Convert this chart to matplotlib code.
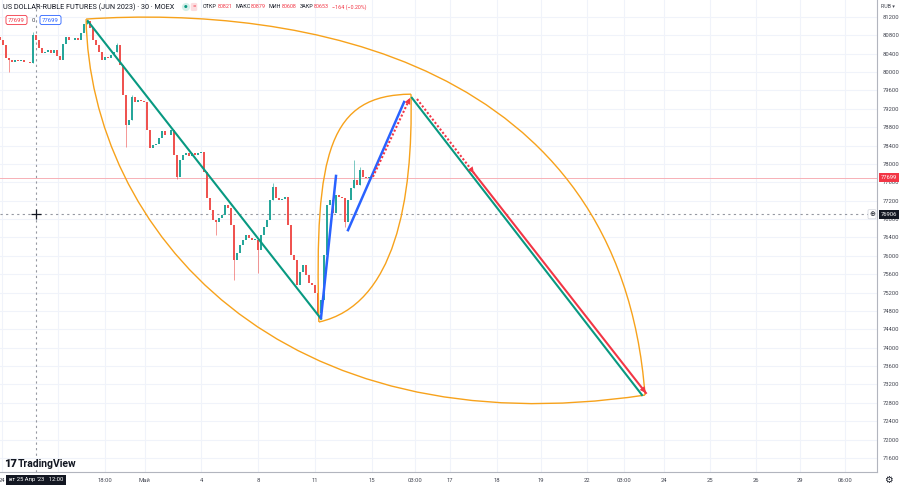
import matplotlib.pyplot as plt
from matplotlib.path import Path
import matplotlib.patches as patches
import matplotlib.transforms as mtransforms

plt.rcParams['font.family'] = ['Roboto', 'DejaVu Sans']

# 30 min candles, one close per bar (bar 0 = left edge of the chart)
first_open = 80760
closes = [80700, 80590, 80310, 80260, 80220, 80260, 80240, 80260, 80220, 80220,
          80200, 80810, 80700, 80530, 80420, 80440, 80480, 80420, 80480, 80350,
          80260, 80610, 80760, 80700, 80700, 80740, 80700, 80850, 81050, 81110,
          80960, 80700, 80590, 80440, 80260, 80330, 80310, 80370, 80440, 80590,
          80150, 79500, 78850, 78960, 79460, 79350, 79390, 79370, 79350, 78740,
          78350, 78410, 78430, 78570, 78720, 78630, 78630, 78740, 78200, 77720,
          78090, 78200, 78240, 78170, 78240, 78200, 78240, 78260, 77830, 77260,
          77000, 76780, 76740, 76820, 76890, 77110, 77040, 76670, 75910, 76060,
          76240, 76350, 76450, 76390, 76350, 76350, 76130, 76450, 76630, 76780,
          77220, 77500, 77260, 77220, 77240, 77280, 76670, 76020, 75910, 75370,
          75650, 75800, 75580, 75410, 75370, 75190, 74760, 75040, 76020, 77110,
          77220, 76930, 77330, 77280, 77260, 76740, 77220, 77480, 77650, 77540,
          77870, 77720, 77699, 77699]

# visible long wicks (bar, extreme price)
wick_bars = [3, 11, 29, 39, 42, 44, 59, 72, 78, 86, 91, 106, 115, 118, 120]
wick_ends = [80000, 80880, 81155, 80630, 78380, 79500, 77670, 76455, 75475,
             75630, 77590, 74600, 76630, 78090, 77935]

last_price = 77699
cross_bar = 12
cross_price = 76906

price_ticks = [81200, 80800, 80400, 80000, 79600, 79200, 78800, 78400, 78000,
               77600, 77200, 76800, 76400, 76000, 75600, 75200, 74800, 74400,
               74000, 73600, 73200, 72800, 72400, 72000, 71600]
time_ticks = [0.7, 19.3, 35.0, 48.3, 67.0, 86.0, 105.0, 124.0, 138.3, 150.0,
              165.7, 180.3, 195.7, 208.0, 221.3, 236.7, 252.0, 266.7, 281.7]
# the "25" tick sits under the crosshair time label
time_labels = ['24', '', '18:00', 'Май', '4', '8', '11', '15', '03:00', '17',
               '18', '19', '22', '03:00', '24', '25', '26', '29', '06:00']

# header values
ohlc_names = ['ОТКР', 'МАКС', 'МИН', 'ЗАКР']
ohlc_values = ['80821', '80879', '80608', '80653']
change_text = '−164 (−0.20%)'

# drawings: (bar, price)
green_1 = [(29.3, 81110), (107.0, 74630)]
green_2 = [(137.3, 79440), (214.0, 72970)]
blue_1 = [(107.0, 74650), (112.0, 77740)]
blue_2 = [(116.0, 76560), (134.7, 79350)]
red_dot_1 = [(124.3, 77720), (136.7, 79440)]
red_dot_2 = [(139.0, 79415), (158.0, 77800)]
red_solid = [(158.0, 77800), (215.3, 73015)]
arc_big_lower = [(28.7, 81155), (30.0, 76560), (93.3, 71775), (215.0, 72970)]
arc_big_upper = [(28.7, 81155), (100.0, 81460), (206.7, 80265), (215.0, 72970)]
arc_small_left = [(106.3, 74560), (104.7, 78305), (110.0, 79500), (137.0, 79520)]
arc_small_right = [(106.3, 74560), (131.7, 74930), (137.7, 77215), (137.0, 79520)]

UP = '#26a69a'
DOWN = '#ef5350'
TEXT = '#131722'
LABEL = '#434651'
RED = '#f23645'
ORANGE = '#f7a21b'

W, H = 900, 488


def fpos(x, y):
    return x / W, 1 - y / H


fig = plt.figure(figsize=(9, 4.88), dpi=100)
ax = fig.add_axes([0, 16 / H, 877 / W, 472 / H])
ax.set_xlim(0, 292.33)
ax.set_ylim(71295, 81570)

for s in ['left', 'top']:
    ax.spines[s].set_visible(False)
for s in ['right', 'bottom']:
    ax.spines[s].set_color('#b2b5be')
    ax.spines[s].set_linewidth(0.8)

ax.yaxis.tick_right()
ax.set_yticks(price_ticks)
ax.set_yticklabels([str(p) for p in price_ticks])
ax.set_xticks(time_ticks)
ax.set_xticklabels(time_labels)
ax.tick_params(axis='y', length=0, pad=4, labelsize=4.2, labelcolor=LABEL)
ax.tick_params(axis='x', length=0, pad=4, labelsize=4.2, labelcolor=LABEL)
ax.grid(True, color='#f0f3fa', linewidth=0.8)
ax.set_axisbelow(True)

# candles
prev = first_open
for i, c in enumerate(closes):
    o = prev
    col = UP if c >= o else DOWN
    h = c - o
    if abs(h) < 10:
        h = 10 if h >= 0 else -10
    ax.bar(i, h, bottom=o, width=0.85, color=col, linewidth=0, zorder=2)
    prev = c
opens = [first_open] + closes[:-1]
for b, e in zip(wick_bars, wick_ends):
    o, c = opens[b], closes[b]
    col = UP if c >= o else DOWN
    ax.vlines(b, min(o, c, e), max(o, c, e), color=col, linewidth=0.6, alpha=0.7, zorder=2)

# last price line and crosshair
ax.axhline(last_price, color='#f7b0b6', linewidth=0.7, zorder=1.5)
ax.axhline(cross_price, color='#9598a1', linewidth=0.8, linestyle=(0, (2, 3)), zorder=1.6)
ax.axvline(cross_bar, color='#9598a1', linewidth=0.8, linestyle=(0, (2, 3)), zorder=1.6)
ax.plot(cross_bar, cross_price, marker='+', ms=7, mew=0.9, color=TEXT, zorder=6)

# arcs
for arc in [arc_big_lower, arc_big_upper, arc_small_left, arc_small_right]:
    path = Path(arc, [Path.MOVETO, Path.CURVE4, Path.CURVE4, Path.CURVE4])
    ax.add_patch(patches.PathPatch(path, fill=False, edgecolor=ORANGE, linewidth=1.0, zorder=3))

# trend lines
for seg in [green_1, green_2]:
    ax.plot(*zip(*seg), color='#089981', linewidth=1.5, zorder=4)
for seg in [blue_1, blue_2]:
    ax.plot(*zip(*seg), color='#2962ff', linewidth=1.8, zorder=4)
for seg, ls in [(red_dot_1, (0, (1, 1))), (red_dot_2, (0, (1, 1))), (red_solid, '-')]:
    ax.plot(*zip(*seg), color=RED, linewidth=1.5, linestyle=ls, zorder=4.5)
    ax.annotate('', xy=seg[1], xytext=seg[0],
                arrowprops=dict(arrowstyle='-|>,head_length=0.45,head_width=0.22',
                                color=RED, lw=0, shrinkA=0, shrinkB=0), zorder=5)

# price axis labels
ytr = mtransforms.blended_transform_factory(ax.transAxes, ax.transData)
ax.text(1 + 4 / 877, last_price, str(last_price), transform=ytr, ha='left', va='center',
        fontsize=4.2, color='white', clip_on=False, zorder=10,
        bbox=dict(boxstyle='square,pad=0.35', fc=RED, ec='none'))
ax.text(1 + 4 / 877, cross_price, str(cross_price), transform=ytr, ha='left', va='center',
        fontsize=4.2, color='white', clip_on=False, zorder=10,
        bbox=dict(boxstyle='square,pad=0.35', fc=TEXT, ec='none'))
ax.text(1 - 5 / 877, cross_price, '⊕', transform=ytr, ha='center', va='center',
        fontsize=5, color=TEXT, clip_on=False, zorder=10,
        bbox=dict(boxstyle='round,pad=0.15', fc='white', ec='#d1d4dc', lw=0.5))

# time axis crosshair label
xtr = mtransforms.blended_transform_factory(ax.transData, ax.transAxes)
ax.text(cross_bar, -8 / 472, "вт 25 Апр '23   12:00", transform=xtr, ha='center', va='center',
        fontsize=4.2, color='white', clip_on=False, zorder=10,
        bbox=dict(boxstyle='square,pad=0.45', fc=TEXT, ec='none'))

fig.text(*fpos(888, 6), 'RUB ▾', fontsize=3.8, color=LABEL, ha='center', va='center')
fig.text(*fpos(888, 480), '⚙', fontsize=7, color=TEXT, ha='center', va='center')

# logo
fig.text(*fpos(4, 464), '17', fontsize=8, fontweight='heavy', color=TEXT, ha='left', va='center')
fig.text(*fpos(18, 464), 'TradingView', fontsize=7.5, fontweight='bold', color=TEXT,
         ha='left', va='center')

# header
fig.text(*fpos(3, 7), 'US DOLLAR-RUBLE FUTURES (JUN 2023) · 30 · MOEX', fontsize=5.2,
         color=TEXT, ha='left', va='center')
fig.text(*fpos(186, 7), '●', fontsize=3, color='#089981', ha='center', va='center',
         bbox=dict(boxstyle='circle,pad=0.5', fc='#d5efe9', ec='none'))
fig.text(*fpos(194, 7), '=', fontsize=4.5, color=RED, ha='center', va='center',
         bbox=dict(boxstyle='round,pad=0.25', fc='#fcdde0', ec='none'))

# OHLC row: each piece placed right after the previous one
last_txt = None
for name, val in zip(ohlc_names, ohlc_values):
    if last_txt is None:
        name_txt = fig.text(*fpos(203, 7), name, fontsize=3.9, color=TEXT,
                            ha='left', va='center')
    else:
        name_txt = ax.annotate(name, xy=(1, 0.5), xycoords=last_txt, xytext=(2.2, 0),
                               textcoords='offset points', fontsize=3.9, color=TEXT,
                               ha='left', va='center', annotation_clip=False)
    last_txt = ax.annotate(val, xy=(1, 0.5), xycoords=name_txt, xytext=(0.3, 0),
                           textcoords='offset points', fontsize=3.9, color=RED,
                           ha='left', va='center', annotation_clip=False)
ax.annotate(change_text, xy=(1, 0.5), xycoords=last_txt, xytext=(2.2, 0),
            textcoords='offset points', fontsize=3.9, color=RED,
            ha='left', va='center', annotation_clip=False)

fig.text(*fpos(16.5, 20), '77699', fontsize=4.3, color=RED, ha='center', va='center',
         bbox=dict(boxstyle='round,pad=0.35', fc='white', ec=RED, lw=0.6))
fig.text(*fpos(33.5, 20), '0', fontsize=4.3, color=LABEL, ha='center', va='center')
fig.text(*fpos(50.5, 20), '77699', fontsize=4.3, color='#2962ff', ha='center', va='center',
         bbox=dict(boxstyle='round,pad=0.35', fc='white', ec='#2962ff', lw=0.6))

fig.savefig('out.png', dpi=100)
